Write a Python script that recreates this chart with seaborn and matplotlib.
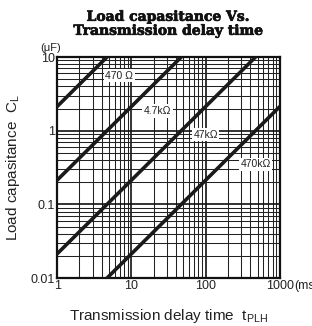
import matplotlib
matplotlib.use("Agg")
import matplotlib.pyplot as plt
import matplotlib.patheffects as pe
import seaborn as sns
import pandas as pd
from matplotlib.ticker import LogLocator, FixedLocator, NullFormatter

# Data: endpoints of each RC line
series_names = ["470 Ω", "4.7kΩ", "47kΩ", "470kΩ"]
t_470 = [1, 4.7]
c_470 = [2.13, 10]
t_4k7 = [1, 47]
c_4k7 = [0.213, 10]
t_47k = [1, 470]
c_47k = [0.0213, 10]
t_470k = [4.7, 1000]
c_470k = [0.01, 2.13]

label_x = [6.9, 22.5, 100, 470]
label_y = [5.6, 1.85, 0.88, 0.35]

x_ticks = [1, 10, 100, 1000]
x_ticklabels = ["1", "10", "100", "1000"]
y_ticks = [0.01, 0.1, 1, 10]
y_ticklabels = ["0.01", "0.1", "1", "10"]

frames = []
for name, t, c in zip(series_names, [t_470, t_4k7, t_47k, t_470k],
                      [c_470, c_4k7, c_47k, c_470k]):
    frames.append(pd.DataFrame({"t": t, "C": c, "R": name}))
df = pd.concat(frames, ignore_index=True)

sns.set_style("white")
plt.rcParams['font.family'] = ['Liberation Sans', 'DejaVu Sans']

fig = plt.figure(figsize=(3.12, 3.26), dpi=100)
ax = fig.add_axes([0.183, 0.147, 0.714, 0.678])

ax.set_xscale("log")
ax.set_yscale("log")
ax.set_xlim(1, 1000)
ax.set_ylim(0.01, 10)

sns.lineplot(data=df, x="t", y="C", units="R", estimator=None,
             color="#1a1a1a", lw=2.6, ax=ax, legend=False, zorder=3)

ax.xaxis.set_major_locator(FixedLocator(x_ticks))
ax.yaxis.set_major_locator(FixedLocator(y_ticks))
ax.set_xticklabels(x_ticklabels)
ax.set_yticklabels(y_ticklabels)
ax.xaxis.set_minor_locator(LogLocator(base=10, subs=range(2, 10)))
ax.yaxis.set_minor_locator(LogLocator(base=10, subs=range(2, 10)))
ax.xaxis.set_minor_formatter(NullFormatter())
ax.yaxis.set_minor_formatter(NullFormatter())

ax.grid(which="major", color="#111111", lw=1.2)
ax.grid(which="minor", color="#222222", lw=0.75)
ax.tick_params(which="both", length=0, labelsize=9, pad=1.5, colors="#222222")
for s in ax.spines.values():
    s.set_color("#111111")
    s.set_linewidth(1.6)

for name, lx, ly in zip(series_names, label_x, label_y):
    ax.text(lx, ly, name, fontsize=7.5, ha="center", va="center", color="#222222",
            zorder=4, bbox=dict(boxstyle="square,pad=0.15", fc="white", ec="none"))

ax.annotate("(ms)", xy=(1.0, 0.0), xycoords="axes fraction",
            xytext=(10, -1.5), textcoords="offset points", fontsize=9,
            ha="left", va="top", color="#222222", annotation_clip=False)
ax.text(-0.027, 1.02, "(μF)", transform=ax.transAxes, fontsize=8, ha="center",
        va="bottom", color="#222222")

ax.set_xlabel("Transmission delay time  t$_\\mathregular{PLH}$", fontsize=11,
              labelpad=11, color="#222222")
ax.set_ylabel("Load capasitance  C$_\\mathregular{L}$", fontsize=11,
              labelpad=6, color="#222222")

fig.text(0.54, 0.97, "Load capasitance Vs.\nTransmission delay time",
         ha="center", va="top", fontsize=10, fontweight="bold",
         family="DejaVu Serif", linespacing=1.0, color="#111111",
         path_effects=[pe.withStroke(linewidth=0.5, foreground="#111111")])

fig.savefig("out.png", dpi=100)
